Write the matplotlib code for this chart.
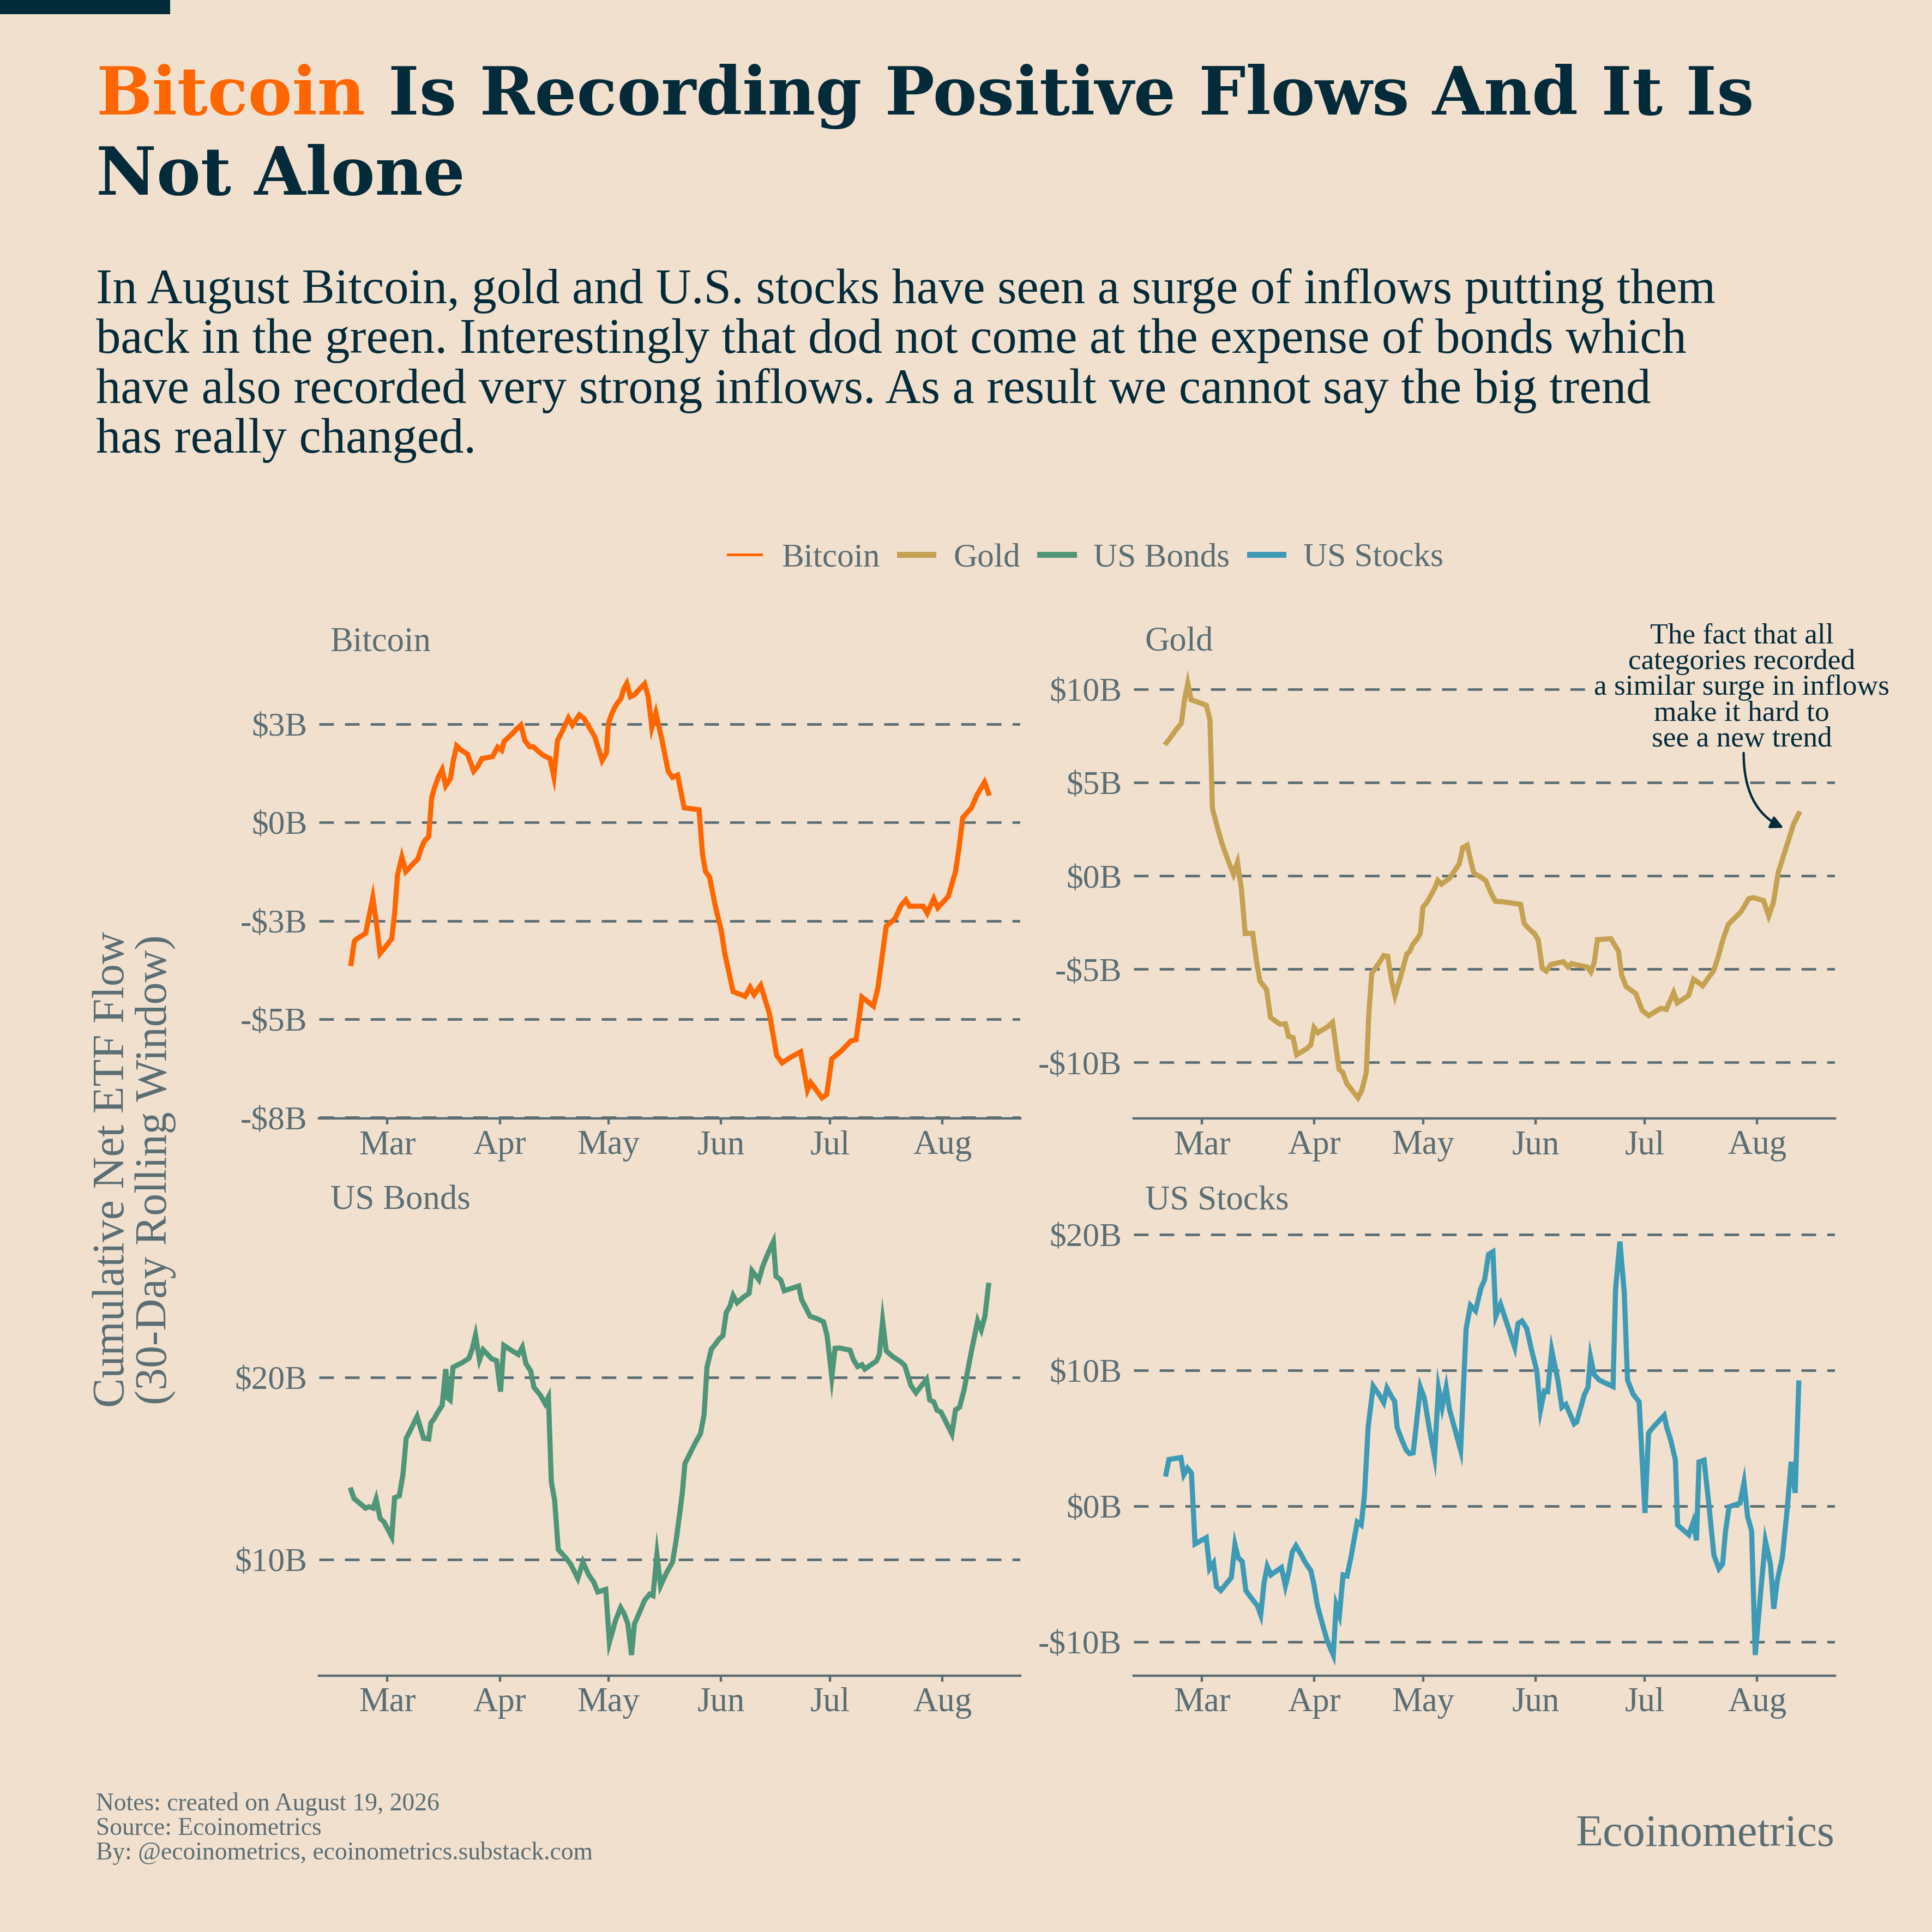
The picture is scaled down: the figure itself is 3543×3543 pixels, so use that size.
import numpy as np
import pandas as pd
import matplotlib.pyplot as plt
import matplotlib.dates as mdates
from matplotlib.lines import Line2D

plt.rcParams["font.family"] = ["Liberation Serif", "DejaVu Serif"]

# colours
BG = "#F2E0CF"
DARK = "#032B3A"
GREY = "#5A6E74"
ORANGE = "#FF6600"
GOLD = "#C5A152"
GREEN = "#4F9578"
BLUE = "#3E9BB5"

# dates are stored as day offsets from 1 March 2026
START = pd.Timestamp("2026-03-01")

btc_day = [-10.0, -9.1, -8.4, -6.0, -4.0, -3.1, -2.0, -0.4, 1.2, 2.0, 2.8, 4.0, 5.1, 7.4, 8.4,
           9.4, 10.3, 11.4, 12.2, 13.0, 14.1, 15.1, 16.1, 17.4, 18.1, 19.1, 20.1, 22.1, 23.8,
           24.9, 26.1, 29.0, 30.4, 31.5, 32.2, 34.1, 35.5, 36.8, 37.9, 39.2, 40.2, 42.8, 44.8,
           45.9, 46.9, 48.2, 49.9, 51.0, 52.9, 54.2, 57.2, 59.2, 60.4, 60.9, 61.8, 62.9, 64.4,
           65.2, 66.0, 67.0, 68.1, 70.9, 71.9, 72.9, 74.0, 75.6, 77.4, 78.6, 80.0, 81.8, 85.9,
           86.9, 87.7, 88.8, 90.4, 92.0, 93.0, 95.3, 98.6, 100.0, 101.1, 102.9, 105.3, 107.3,
           108.8, 111.1, 113.9, 115.8, 116.7, 119.8, 121.1, 122.5, 125.2, 127.8, 129.2, 130.8,
           134.0, 135.2, 137.5, 139.9, 141.5, 142.9, 143.9, 147.7, 148.8, 150.6, 151.7, 154.6,
           156.6, 157.5, 158.6, 161.0, 162.6, 164.6, 165.7]
btc_val = [-3.59, -3.02, -2.96, -2.82, -1.91, -2.50, -3.33, -3.15, -2.96, -2.31, -1.34, -0.88,
           -1.25, -1.02, -0.93, -0.65, -0.46, -0.37, 0.62, 0.88, 1.16, 1.34, 0.93, 1.11, 1.53,
           1.94, 1.85, 1.73, 1.30, 1.42, 1.62, 1.67, 1.91, 1.83, 2.06, 2.22, 2.36, 2.47, 2.08,
           1.92, 1.92, 1.71, 1.62, 1.16, 2.08, 2.31, 2.65, 2.47, 2.73, 2.64, 2.17, 1.57, 1.76,
           2.50, 2.75, 2.96, 3.15, 3.40, 3.53, 3.19, 3.24, 3.52, 3.19, 2.41, 2.78, 2.13, 1.30,
           1.14, 1.20, 0.37, 0.32, -0.83, -1.25, -1.39, -2.13, -2.73, -3.33, -4.30, -4.42,
           -4.19, -4.38, -4.14, -4.86, -5.92, -6.11, -5.97, -5.83, -6.80, -6.61, -7.00, -6.91,
           -6.01, -5.80, -5.55, -5.52, -4.44, -4.67, -4.21, -2.64, -2.45, -2.13, -1.97, -2.13,
           -2.13, -2.31, -1.94, -2.17, -1.88, -1.25, -0.69, 0.12, 0.37, 0.71, 1.02, 0.74]

gold_day = [-9.8, -8.4, -7.0, -5.7, -4.8, -3.9, -3.0, -1.2, 1.2, 2.2, 2.9, 4.0, 5.4, 7.0, 8.7,
            9.8, 10.9, 11.9, 14.0, 15.1, 16.0, 17.8, 18.9, 21.5, 23.0, 23.9, 25.1, 26.1, 28.9,
            30.0, 30.9, 31.9, 34.7, 36.0, 37.2, 37.8, 38.8, 39.9, 41.6, 43.0, 44.1, 45.3, 46.0,
            46.8, 49.2, 50.1, 51.2, 52.2, 53.2, 54.7, 56.5, 57.2, 58.1, 59.3, 60.2, 60.9, 62.0,
            64.2, 65.0, 66.0, 68.1, 70.9, 71.9, 73.1, 74.3, 75.0, 76.8, 78.2, 79.6, 80.9, 83.0,
            87.8, 88.8, 89.9, 91.6, 92.7, 93.8, 94.9, 96.1, 99.6, 100.9, 101.9, 103.0, 106.2,
            107.2, 108.1, 109.0, 112.7, 114.8, 115.7, 116.9, 119.6, 121.3, 123.1, 126.5, 128.0,
            130.0, 131.0, 134.1, 135.5, 138.0, 141.0, 142.1, 143.8, 145.1, 148.6, 150.7, 152.0,
            154.8, 156.2, 157.5, 158.9, 161.0, 163.1, 164.5]
gold_val = [7.12, 7.48, 7.87, 8.16, 9.43, 10.31, 9.43, 9.31, 9.14, 8.36, 3.60, 2.78, 1.80, 0.92,
            0.08, 0.72, -0.74, -3.09, -3.09, -4.66, -5.64, -6.09, -7.59, -7.95, -7.93, -8.61,
            -8.67, -9.59, -9.26, -9.06, -8.14, -8.41, -8.08, -7.85, -9.55, -10.37, -10.53,
            -11.12, -11.55, -11.90, -11.47, -10.53, -7.40, -5.24, -4.56, -4.27, -4.31, -5.54,
            -6.42, -5.44, -4.17, -4.07, -3.68, -3.39, -3.09, -1.68, -1.43, -0.65, -0.25, -0.45,
            -0.16, 0.63, 1.51, 1.64, 0.63, 0.12, -0.06, -0.25, -0.90, -1.37, -1.39, -1.53,
            -2.54, -2.80, -3.09, -3.44, -4.95, -5.11, -4.76, -4.60, -4.89, -4.70, -4.76, -4.89,
            -5.15, -4.66, -3.42, -3.37, -4.03, -5.34, -5.93, -6.32, -7.20, -7.49, -7.10, -7.16,
            -6.26, -6.81, -6.42, -5.54, -5.89, -5.09, -4.46, -3.29, -2.60, -1.92, -1.23, -1.17,
            -1.33, -2.15, -1.43, 0.23, 1.51, 2.78, 3.33]

bonds_day = [-10.0, -9.2, -8.0, -6.0, -5.0, -3.9, -3.1, -2.0, -0.9, 1.2, 2.0, 3.3, 4.3, 5.2,
             6.0, 8.2, 9.4, 10.0, 11.4, 12.0, 13.0, 13.5, 15.1, 16.1, 16.7, 17.3, 18.1, 19.1,
             20.7, 22.5, 23.4, 24.3, 25.4, 26.4, 28.8, 30.1, 31.2, 32.1, 34.1, 36.1, 37.2, 38.2,
             39.5, 40.4, 42.2, 43.5, 44.4, 45.2, 46.1, 47.1, 48.9, 50.5, 52.5, 53.9, 55.5, 56.9,
             58.0, 60.2, 61.2, 62.9, 64.3, 65.2, 66.3, 67.3, 68.1, 69.2, 70.9, 72.3, 73.2, 74.3,
             75.3, 76.9, 78.6, 79.6, 80.6, 81.3, 82.0, 83.0, 85.0, 86.3, 87.3, 88.1, 89.3, 90.4,
             91.4, 92.5, 93.4, 94.4, 95.3, 96.4, 98.1, 99.7, 100.5, 102.4, 103.5, 104.8, 105.7,
             106.4, 107.1, 108.4, 109.4, 113.4, 114.2, 115.1, 116.5, 118.5, 120.2, 121.2, 122.5,
             123.4, 124.5, 127.5, 128.5, 129.6, 130.8, 131.6, 134.8, 135.6, 136.5, 137.5, 139.2,
             141.5, 142.6, 144.3, 145.7, 148.6, 149.5, 150.6, 151.5, 152.6, 155.6, 156.6, 157.7,
             158.9, 161.0, 162.7, 163.7, 164.7, 165.7]
bonds_val = [13.82, 13.36, 13.16, 12.82, 12.90, 12.82, 13.32, 12.26, 12.06, 11.26, 13.40, 13.50,
             14.66, 16.66, 16.96, 17.86, 17.06, 16.66, 16.62, 17.50, 17.76, 17.96, 18.46, 20.46,
             18.86, 18.76, 20.56, 20.66, 20.82, 21.06, 21.56, 22.32, 20.96, 21.52, 21.02, 20.92,
             19.22, 21.76, 21.50, 21.26, 21.66, 20.76, 20.36, 19.46, 19.02, 18.56, 18.92, 14.26,
             13.26, 10.56, 10.16, 9.76, 8.96, 9.86, 9.16, 8.76, 8.22, 8.36, 5.46, 6.66, 7.36,
             7.06, 6.46, 4.76, 6.46, 6.96, 7.76, 8.10, 8.02, 10.26, 8.56, 9.26, 9.86, 11.06,
             12.56, 13.66, 15.26, 15.66, 16.46, 16.90, 17.96, 20.56, 21.56, 21.82, 22.10, 22.30,
             23.56, 23.90, 24.50, 24.10, 24.40, 24.62, 25.86, 25.36, 26.12, 26.76, 27.16, 27.46,
             25.56, 25.36, 24.76, 25.02, 24.26, 23.92, 23.36, 23.22, 23.06, 22.30, 20.02, 21.60,
             21.62, 21.50, 20.96, 20.60, 20.70, 20.46, 20.90, 21.26, 23.10, 21.46, 21.16, 20.86,
             20.66, 19.56, 19.16, 19.90, 18.76, 18.66, 18.20, 18.10, 16.90, 18.22, 18.36, 19.26,
             21.46, 23.10, 22.62, 23.36, 25.06]

stocks_day = [-9.9, -9.1, -5.8, -5.0, -4.0, -2.9, -1.9, 1.2, 2.1, 3.2, 4.0, 5.2, 8.1, 9.1, 10.0,
              11.1, 12.1, 13.2, 15.3, 16.2, 17.1, 18.0, 19.0, 21.9, 23.0, 23.9, 24.9, 25.9,
              27.4, 28.3, 30.0, 30.8, 31.8, 33.2, 34.5, 36.2, 37.0, 37.9, 38.9, 40.0, 41.1, 42.8,
              43.9, 44.8, 45.8, 47.2, 49.0, 50.1, 51.0, 52.4, 53.1, 53.8, 55.1, 56.3, 57.2, 58.2,
              59.0, 60.2, 61.3, 62.7, 64.1, 65.2, 66.2, 67.3, 68.2, 69.9, 71.3, 71.9, 72.8, 74.0,
              75.4, 76.9, 77.9, 79.0, 80.2, 81.0, 82.3, 83.4, 86.2, 87.1, 88.2, 89.5, 90.9, 92.3,
              93.3, 94.4, 95.3, 96.4, 98.1, 99.2, 100.3, 102.6, 103.3, 105.4, 106.4, 107.1,
              108.1, 109.5, 113.3, 114.0, 115.2, 116.4, 117.3, 118.8, 120.5, 122.1, 123.1, 124.6,
              127.4, 128.1, 129.2, 130.5, 131.1, 134.2, 135.4, 136.3, 137.0, 138.4, 139.8, 141.1,
              142.5, 143.5, 144.3, 145.3, 148.3, 149.4, 150.4, 151.5, 152.5, 154.2, 155.3, 156.7,
              157.6, 158.6, 160.0, 161.3, 162.4, 163.5, 164.5]
stocks_val = [2.36, 3.43, 3.57, 2.31, 2.79, 2.44, -2.79, -2.33, -4.61, -4.19, -5.93, -6.22,
              -5.26, -2.84, -3.81, -4.08, -6.22, -6.63, -7.35, -8.02, -5.69, -4.45, -5.07,
              -4.53, -5.88, -4.88, -3.38, -2.92, -3.60, -4.08, -4.75, -5.69, -7.30, -8.69,
              -9.90, -10.97, -7.30, -8.02, -5.07, -5.15, -3.73, -1.18, -1.40, 0.83, 5.80, 8.83,
              8.13, 7.62, 8.69, 8.00, 7.73, 5.80, 4.86, 4.13, 3.86, 3.92, 5.80, 8.75, 7.94, 5.66,
              3.65, 8.69, 7.27, 8.75, 7.14, 5.47, 4.11, 7.73, 13.04, 14.78, 14.38, 16.05, 16.66,
              18.54, 18.73, 13.98, 14.86, 13.98, 11.70, 13.44, 13.63, 13.09, 11.43, 9.95, 7.06,
              8.48, 8.43, 11.48, 9.28, 7.27, 7.49, 6.06, 6.20, 8.21, 8.75, 10.97, 9.69, 9.28,
              8.80, 15.99, 19.48, 15.72, 9.28, 8.26, 7.67, -0.51, 5.39, 5.88, 6.68, 5.80, 4.86,
              3.38, -1.40, -2.12, -1.18, -2.52, 3.25, 3.38, -0.11, -3.60, -4.61, -4.27, -1.85,
              -0.05, 0.21, 1.72, -0.78, -1.85, -10.97, -5.74, -2.58, -4.27, -7.57, -5.47, -3.73,
              -0.24, 3.25, 0.97, 9.07]

# axis ticks per panel
btc_ticks = [-7.5, -5, -2.5, 0, 2.5]
btc_labels = ["-$8B", "-$5B", "-$3B", "$0B", "$3B"]
gold_ticks = [-10, -5, 0, 5, 10]
gold_labels = ["-$10B", "-$5B", "$0B", "$5B", "$10B"]
bonds_ticks = [10, 20]
bonds_labels = ["$10B", "$20B"]
stocks_ticks = [-10, 0, 10, 20]
stocks_labels = ["-$10B", "$0B", "$10B", "$20B"]

title_hl = "Bitcoin"
title_rest = "Is Recording Positive Flows And It Is"
title_line2 = "Not Alone"
subtitle = [
    "In August Bitcoin, gold and U.S. stocks have seen a surge of inflows putting them",
    "back in the green. Interestingly that dod not come at the expense of bonds which",
    "have also recorded very strong inflows. As a result we cannot say the big trend",
    "has really changed.",
]
notes = [
    "Notes: created on August 19, 2026",
    "Source: Ecoinometrics",
    "By: @ecoinometrics, ecoinometrics.substack.com",
]
note_text = ("The fact that all\ncategories recorded\na similar surge in inflows\n"
             "make it hard to\nsee a new trend")


W = 1568.0


def fx(x):
    return x / W


def fy(y):
    return 1 - y / W


def to_dates(days):
    return START + pd.to_timedelta(np.array(days), unit="D")


fig = plt.figure(figsize=(15.68, 15.68), dpi=226, facecolor=BG)
r = fig.canvas.get_renderer()


def text_width(s, size, **kw):
    t = fig.text(0, 0, s, fontsize=size, **kw)
    w = t.get_window_extent(r).width
    t.remove()
    return w


def fit_size(s, width_units, **kw):
    # font size that makes s span the given width
    return 40 * (width_units / W * fig.bbox.width) / text_width(s, 40, **kw)


# dark tab in the corner
fig.patches.append(plt.Rectangle((0, fy(12)), fx(138), fx(12), transform=fig.transFigure,
                                 facecolor=DARK, edgecolor="none"))

# title in two colours
tkw = dict(fontweight="bold", family=["DejaVu Serif"])
tsize = fit_size(title_hl + " " + title_rest, 1344, **tkw)
t1 = fig.text(fx(78), fy(93), title_hl, color=ORANGE, fontsize=tsize, va="baseline",
              ha="left", **tkw)
bb = t1.get_window_extent(r)
space = text_width("a a", tsize, **tkw) - text_width("aa", tsize, **tkw)
fig.text((bb.x1 + space) / fig.bbox.width, fy(93), title_rest, color=DARK, fontsize=tsize,
         va="baseline", ha="left", **tkw)
fig.text(fx(78), fy(158), title_line2, color=DARK, fontsize=tsize, va="baseline", ha="left",
         **tkw)

ssize = fit_size(subtitle[0], 1314)
for i, line in enumerate(subtitle):
    fig.text(fx(78), fy(246 + 40.4 * i), line, color=DARK, fontsize=ssize, va="baseline")

# panels
all_days = np.concatenate([btc_day, gold_day, bonds_day, stocks_day])
pad = 0.05 * (all_days.max() - all_days.min())
x_lo = START + pd.Timedelta(days=all_days.min() - pad)
x_hi = START + pd.Timedelta(days=all_days.max() + pad)

panels = [
    ("Bitcoin", btc_day, btc_val, ORANGE, btc_ticks, btc_labels, 259, 538, 828, 908),
    ("Gold", gold_day, gold_val, GOLD, gold_ticks, gold_labels, 920, 538, 1489, 908),
    ("US Bonds", bonds_day, bonds_val, GREEN, bonds_ticks, bonds_labels, 259, 991, 828, 1360),
    ("US Stocks", stocks_day, stocks_val, BLUE, stocks_ticks, stocks_labels, 920, 991, 1489, 1360),
]

axes = {}
for name, days, vals, col, ticks, labels, x0, y0, x1, y1 in panels:
    ax = fig.add_axes([fx(x0), fy(y1), fx(x1 - x0), (y1 - y0) / W])
    ax.set_facecolor(BG)
    ax.plot(to_dates(days), vals, color=col, lw=3.0, solid_joinstyle="miter", zorder=3)
    ax.margins(y=0.05)
    ax.set_xlim(x_lo, x_hi)
    ax.set_yticks(ticks)
    ax.set_yticklabels(labels)
    ax.yaxis.grid(True, color=GREY, lw=1.5, linestyle=(0, (5.7, 4.3)))
    ax.set_axisbelow(True)
    for s in ["top", "right", "left"]:
        ax.spines[s].set_visible(False)
    ax.spines["bottom"].set_color(GREY)
    ax.spines["bottom"].set_linewidth(1.4)
    ax.xaxis.set_major_locator(mdates.MonthLocator())
    ax.xaxis.set_major_formatter(mdates.DateFormatter("%b"))
    ax.tick_params(axis="y", length=0, pad=7, labelsize=19.5, labelcolor=GREY)
    ax.tick_params(axis="x", length=3.4, width=1.4, color=GREY, pad=3, labelsize=20,
                   labelcolor=GREY)
    fig.text(fx(x0 + 9), fy(y0 - 10), name, color=GREY, fontsize=20, va="baseline")
    axes[name] = ax

# annotation on gold panel
axg = axes["Gold"]
d2n = mdates.date2num
axg.text(d2n(START + pd.Timedelta(days=148.8)), 10.1, note_text, ha="center", va="center",
         fontsize=17, color=DARK, linespacing=0.98, zorder=5,
         bbox=dict(facecolor=BG, edgecolor="none", pad=1))
axg.annotate("", xy=(d2n(START + pd.Timedelta(days=160.3)), 2.57),
             xytext=(d2n(START + pd.Timedelta(days=149.3)), 6.58),
             arrowprops=dict(arrowstyle="-|>,head_length=0.6,head_width=0.3", color=DARK,
                             lw=1.4, connectionstyle="angle3,angleA=90,angleB=-25",
                             shrinkA=0, shrinkB=0), zorder=5)

# legend
handles = [
    Line2D([], [], color=ORANGE, lw=1.6),
    Line2D([], [], color=GOLD, lw=3.5),
    Line2D([], [], color=GREEN, lw=3.5),
    Line2D([], [], color=BLUE, lw=3.5),
]
fig.legend(handles, ["Bitcoin", "Gold", "US Bonds", "US Stocks"], loc="center",
           bbox_to_anchor=(fx(881), fy(453)), ncol=4, frameon=False, fontsize=19.5,
           labelcolor=GREY, handlelength=1.0, handletextpad=0.6, columnspacing=0.6)

# y axis title
fig.text(fx(109), fy(949), "Cumulative Net ETF Flow\n(30-Day Rolling Window)", rotation=90,
         ha="center", va="center", multialignment="center", color=GREY, fontsize=26,
         linespacing=1.05)

# footer
for i, line in enumerate(notes):
    fig.text(fx(78), fy(1469 + 20 * i), line, color=GREY, fontsize=14.5, va="baseline")
fig.text(fx(1489), fy(1498), "Ecoinometrics", color=GREY, fontsize=26.2, ha="right",
         va="baseline")

fig.savefig("out.png", dpi=226, facecolor=BG)
